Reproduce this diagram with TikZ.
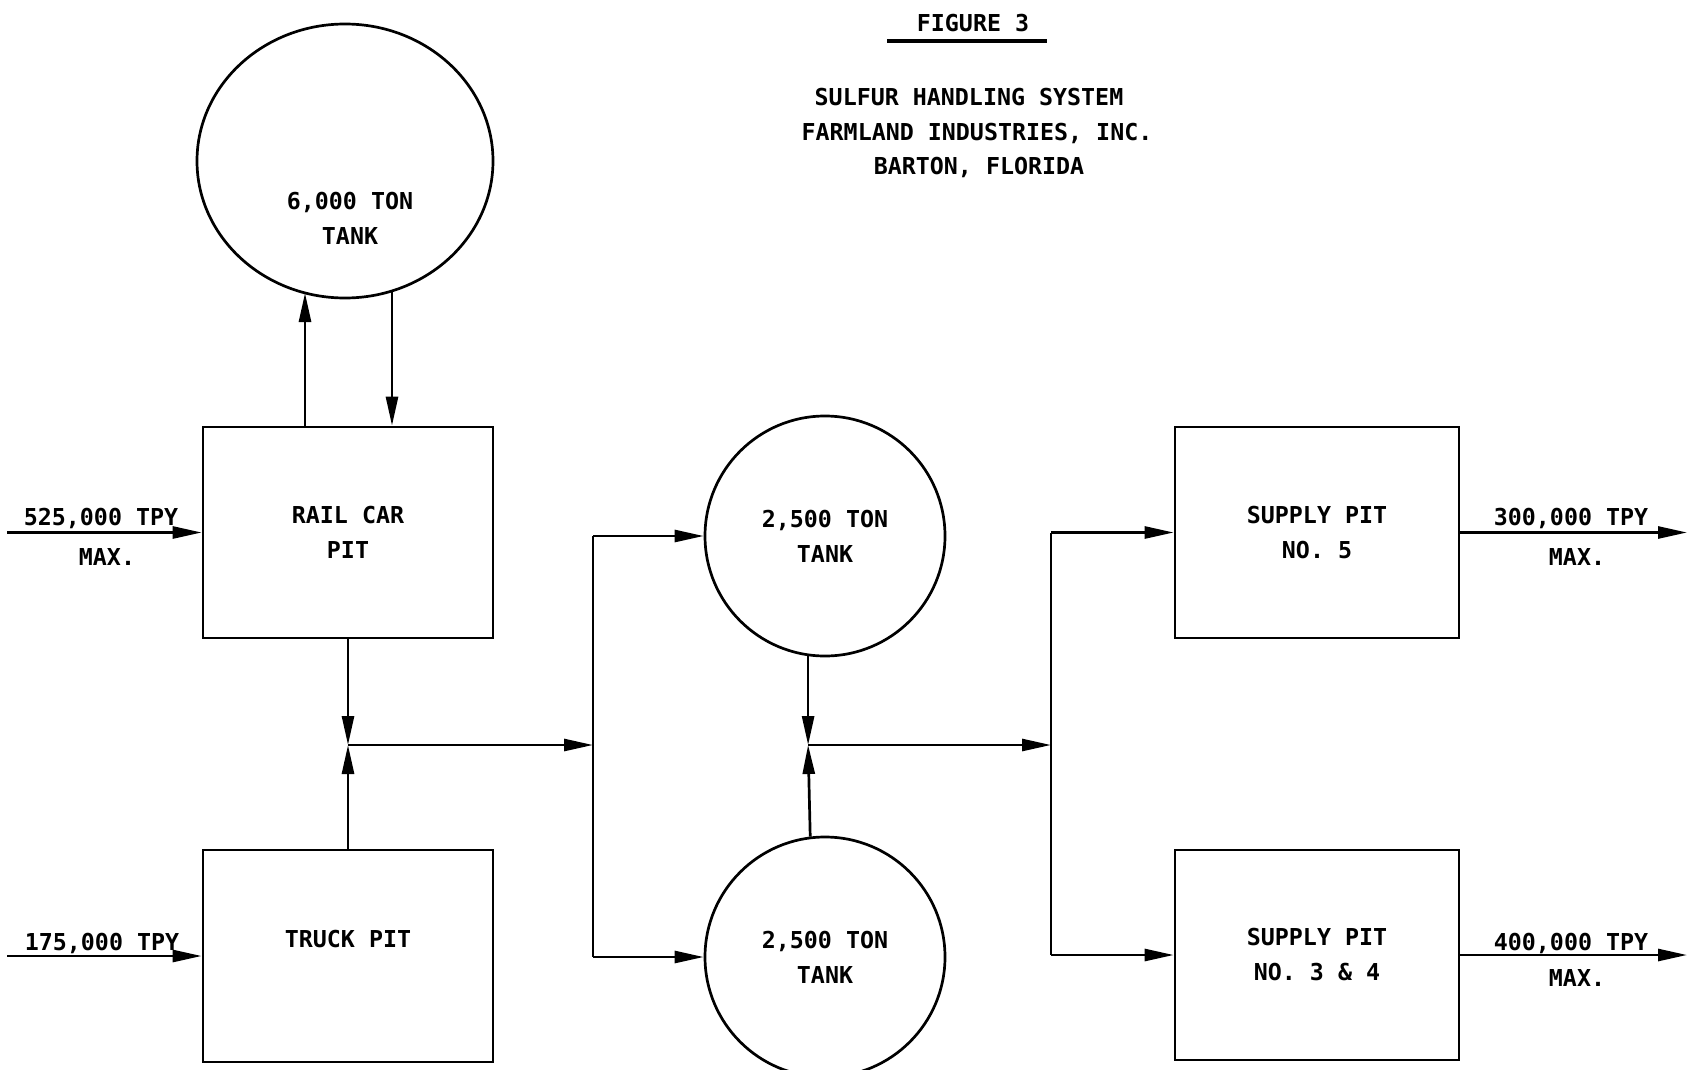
\documentclass[tikz,border=0pt]{standalone}
\usepackage{fontspec}
\setmonofont{DejaVu Sans Mono}
\usetikzlibrary{arrows.meta,shapes.geometric}
\begin{document}
\begin{tikzpicture}[x=1pt,y=-1pt,
  line width=2.7pt,
  lbl/.style={font=\ttfamily\bfseries\fontsize{23.3}{35}\selectfont, inner sep=0pt, align=center},
  boxn/.style={draw, rectangle, inner sep=0pt, lbl},
  tankn/.style={draw, circle, inner sep=0pt, lbl},
  arr/.style={-{Triangle[length=29pt,width=12pt]}},
]
\useasboundingbox (0,0) rectangle (1691,1070);

% title
\node[lbl] (fig) at (973,23) {FIGURE 3};
\coordinate (ul1) at (887,41);
\coordinate (ul2) at (1047,41);
\draw[line width=4.5pt] (ul1) -- (ul2);
\node[lbl] (t1l) at (969,97) {SULFUR HANDLING SYSTEM};
\node[lbl] (t2l) at (977,133) {FARMLAND INDUSTRIES, INC.};
\node[lbl] (t3l) at (979,167) {BARTON, FLORIDA};

% nodes
\node[draw, ellipse, inner sep=0pt, minimum width=296pt, minimum height=274pt] (big) at (345,161) {};
\node[lbl] (bigtxt) at (350,218) {6,000 TON\\TANK};
\node[boxn, minimum width=290pt, minimum height=211pt] (rail) at (348,532.5) {RAIL CAR\\PIT};
\node[boxn, minimum width=290pt, minimum height=212pt] (truck) at (348,956) {TRUCK PIT\\\mbox{}};
\node[tankn, minimum size=240pt] (ta) at (825,536) {2,500 TON\\TANK};
\node[tankn, minimum size=240pt] (tb) at (825,957) {2,500 TON\\TANK};
\node[boxn, minimum width=284pt, minimum height=211pt] (sp5) at (1317,532.5) {SUPPLY PIT\\NO. 5};
\node[boxn, minimum width=284pt, minimum height=210pt] (sp34) at (1317,955) {SUPPLY PIT\\NO. 3 \& 4};

% big tank loop
\coordinate (bigin) at (305,293);
\coordinate (bigout) at (392,291);
\draw[arr] (bigin |- rail.north) -- (bigin);
\draw[arr] (bigout) -- (bigout |- rail.north);

% inputs
\coordinate (in1) at (7,532.5);
\coordinate (in2) at (7,956);
\draw[arr] (in1) -- (rail.west);
\draw[arr] (in2) -- (truck.west);
\node[lbl] (in1a) at (101,518) {525,000 TPY};
\node[lbl] (in1b) at (107,557) {MAX.};
\node[lbl] (in2a) at (102,943) {175,000 TPY};

% junction 1
\coordinate (j1) at (348,745);
\coordinate (b1) at (593,745);
\coordinate (b1t) at (593,536);
\coordinate (b1b) at (593,957);
\draw[arr] (rail.south) -- (j1);
\draw[arr] (truck.north) -- (j1);
\draw[arr] (j1) -- (b1);
\draw (b1t) -- (b1b);
\draw[arr] (b1t) -- (ta.west);
\draw[arr] (b1b) -- (tb.west);

% junction 2
\coordinate (j2) at (ta.262.3 |- j1);
\coordinate (b2) at (1051,745);
\coordinate (b2t) at (1051,532.5);
\coordinate (b2b) at (1051,955);
\draw[arr] (ta.262.3) -- (j2);
\draw[arr] (tb.97.7) -- (j2);
\draw[arr] (j2) -- (b2);
\draw (b2t) -- (b2b);
\draw[arr] (b2t) -- (sp5.west);
\draw[arr] (b2b) -- (sp34.west);

% outputs
\coordinate (out1) at (1687,532.5);
\coordinate (out2) at (1687,955);
\draw[arr] (sp5.east) -- (out1);
\draw[arr] (sp34.east) -- (out2);
\node[lbl] (o1a) at (1571,518) {300,000 TPY};
\node[lbl] (o1b) at (1577,557) {MAX.};
\node[lbl] (o2a) at (1571,943) {400,000 TPY};
\node[lbl] (o2b) at (1577,978) {MAX.};
\end{tikzpicture}
\end{document}
